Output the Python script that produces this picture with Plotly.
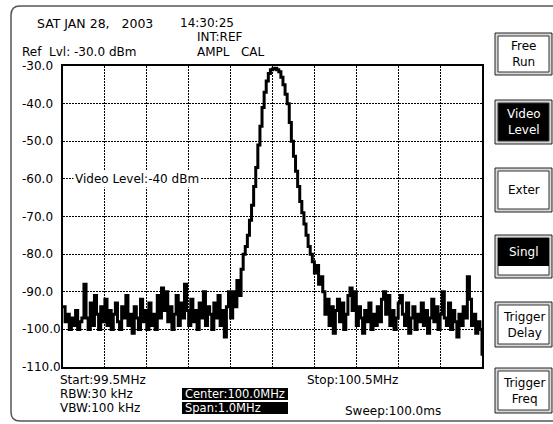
import numpy as np
import plotly.graph_objects as go

# ---- data ----
start_mhz = 99.5
stop_mhz = 100.5
n_points = 201
freqs = np.linspace(start_mhz, stop_mhz, n_points)
levels_dbm = [
    -94, -98, -96, -100, -97, -99, -95, -100, -98, -97, -88,
    -97, -100, -93, -99, -91, -96, -100, -94, -98, -92,
    -99, -95, -100, -96, -93, -98, -100, -94, -97, -91,
    -99, -96, -101, -94, -97, -100, -92, -98, -95, -100,
    -93, -99, -96, -100, -91, -97, -89, -95, -90, -98,
    -94, -100, -96, -91, -99, -93, -97, -88, -95, -99,
    -92, -98, -95, -100, -93, -97, -90, -99, -94, -96,
    -100, -93, -97, -91, -99, -95, -102, -94, -90, -97,
    -90, -94, -87, -91, -84, -80, -78, -75, -71, -67,
    -62, -57, -51, -46, -41, -37, -34, -32, -31, -30.8,
    -30.6, -31, -31.5, -33, -35, -37.5, -40, -45, -50, -54,
    -58, -62, -66, -69, -72, -75, -78, -80, -82, -85,
    -83, -88, -86, -90, -96, -92, -99, -94, -101, -95,
    -92, -98, -93, -100, -96, -91, -89, -95, -90, -99,
    -94, -97, -101, -95, -98, -93, -100, -96, -99, -94,
    -98, -92, -90, -96, -91, -99, -95, -100, -97, -93,
    -91, -96, -99, -93, -101, -97, -94, -100, -96, -98,
    -93, -99, -95, -101, -97, -92, -98, -94, -100, -96,
    -90, -97, -99, -93, -100, -95, -98, -102, -96, -99,
    -94, -97, -86, -92, -99, -96, -101, -98, -100, -107,
]
y_ticks = [-30, -40, -50, -60, -70, -80, -90, -100, -110]
y_tick_labels = ["-30.0", "-40.0", "-50.0", "-60.0", "-70.0", "-80.0", "-90.0", "-100.0", "-110.0"]

top_texts = [
    ("SAT JAN 28,\u00a0\u00a0\u00a02003", 35, 23, 12.5),
    ("14:30:25", 178, 23, 12),
    ("INT:REF", 195, 37, 12),
    ("Ref\u00a0\u00a0Lvl: -30.0 dBm", 20, 52, 12),
    ("AMPL\u00a0\u00a0\u00a0CAL", 195, 52, 12),
]
bottom_texts = [
    ("Start:99.5MHz", 58, 380, 12),
    ("RBW:30 kHz", 58, 394, 12),
    ("VBW:100 kHz", 58, 408, 12),
    ("Stop:100.5MHz", 305, 380, 12),
    ("Sweep:100.0ms", 343, 411, 12),
]
boxed_texts = [("Center:100.0MHz", 388, 400), ("Span:1.0MHz", 402, 414)]
buttons = [
    ("Free<br>Run", 33, 75, "off"),
    ("Video<br>Level", 100, 144, "on"),
    ("Exter", 168, 212, "off"),
    ("Singl", 235, 278, "half"),
    ("Trigger<br>Delay", 302, 347, "off"),
    ("Trigger<br>Freq", 368, 413, "off"),
]
video_label = "Video Level:-40 dBm"

# ---- layout geometry (page pixels) ----
W, H = 553, 424
L, R, T, B = 63, 482, 66, 367
PW, PH = R - L, B - T
FONT = "DejaVu Sans"


def px(x):
    return (x - L) / PW


def py(y):
    return (B - y) / PH


fig = go.Figure()
fig.add_trace(go.Scatter(
    x=freqs, y=levels_dbm, mode="lines",
    line=dict(color="black", width=3, shape="hv"),
    hoverinfo="skip", showlegend=False,
))

shapes = []
annotations = []

# outer rounded frame
r = 9
fx0, fy0, fx1, fy1 = 11, 6, 600, 421
path = (
    f"M {px(fx0 + r)} {py(fy0)} L {px(fx1)} {py(fy0)} L {px(fx1)} {py(fy1)} "
    f"L {px(fx0 + r)} {py(fy1)} Q {px(fx0)} {py(fy1)} {px(fx0)} {py(fy1 - r)} "
    f"L {px(fx0)} {py(fy0 + r)} Q {px(fx0)} {py(fy0)} {px(fx0 + r)} {py(fy0)} Z"
)
shapes.append(dict(type="path", xref="paper", yref="paper", path=path,
                   line=dict(color="#555555", width=1.5), layer="below"))

# buttons
bx0, bx1 = 495, 552
for label, y0, y1, state in buttons:
    shapes.append(dict(type="rect", xref="paper", yref="paper",
                       x0=px(bx0), x1=px(bx1), y0=py(y1), y1=py(y0),
                       line=dict(color="#222222", width=1), fillcolor="#d8d8d8"))
    inner_fill = "black" if state == "on" else "white"
    shapes.append(dict(type="rect", xref="paper", yref="paper",
                       x0=px(bx0 + 3), x1=px(bx1 - 3), y0=py(y1 - 3), y1=py(y0 + 3),
                       line=dict(color="#333333", width=1), fillcolor=inner_fill))
    if state == "half":
        shapes.append(dict(type="rect", xref="paper", yref="paper",
                           x0=px(bx0 + 3), x1=px(bx1 - 3), y0=py(y1 - 12), y1=py(y0 + 3),
                           line=dict(width=0), fillcolor="black"))
    txt_color = "white" if state in ("on", "half") else "black"
    cy = (y0 + y1) / 2 if state != "half" else (y0 + y1 - 9) / 2
    annotations.append(dict(text=label, xref="paper", yref="paper",
                            x=px((bx0 + bx1) / 2), y=py(cy), showarrow=False,
                            xanchor="center", yanchor="middle",
                            font=dict(family=FONT, size=12, color=txt_color)))

# black boxes for center / span
for text, y0, y1 in boxed_texts:
    shapes.append(dict(type="rect", xref="paper", yref="paper",
                       x0=px(182), x1=px(288), y0=py(y1), y1=py(y0),
                       line=dict(width=0), fillcolor="black"))
    annotations.append(dict(text=text, xref="paper", yref="paper",
                            x=px(183), y=py((y0 + y1) / 2), showarrow=False,
                            xanchor="left", yanchor="middle",
                            font=dict(family=FONT, size=11.5, color="white")))

for text, x, y, fs in top_texts + bottom_texts:
    annotations.append(dict(text=text, xref="paper", yref="paper",
                            x=px(x), y=py(y), showarrow=False,
                            xanchor="left", yanchor="middle",
                            font=dict(family=FONT, size=fs, color="black")))

# y tick labels, left aligned
for v, lab in zip(y_ticks, y_tick_labels):
    annotations.append(dict(text=lab, xref="paper", yref="y",
                            x=px(20), y=v, showarrow=False,
                            xanchor="left", yanchor="middle",
                            font=dict(family=FONT, size=12, color="black")))

# video level label
annotations.append(dict(text=video_label, xref="paper", yref="y",
                        x=px(73), y=-60, showarrow=False,
                        xanchor="left", yanchor="middle", bgcolor="white",
                        borderpad=1,
                        font=dict(family=FONT, size=12, color="black")))

fig.update_layout(
    width=W, height=H, autosize=False,
    margin=dict(l=L, r=W - R, t=T, b=H - B, pad=0),
    paper_bgcolor="white", plot_bgcolor="white",
    shapes=shapes, annotations=annotations,
    font=dict(family=FONT, size=12, color="black"),
    xaxis=dict(range=[start_mhz, stop_mhz], dtick=0.1, tick0=start_mhz,
               showgrid=True, gridcolor="black", gridwidth=1, griddash="1.5px,1.5px",
               showline=True, linecolor="black", linewidth=2, mirror=True,
               showticklabels=False, ticks="", zeroline=False, fixedrange=True),
    yaxis=dict(range=[-110, -30], dtick=10, tick0=-110,
               showgrid=True, gridcolor="black", gridwidth=1, griddash="1.5px,1.5px",
               showline=True, linecolor="black", linewidth=2, mirror=True,
               showticklabels=False, ticks="", zeroline=False, fixedrange=True),
)

fig.write_html(
    "out.html",
    config={"displayModeBar": False, "staticPlot": True},
    post_script="document.body.style.margin='0';document.body.style.overflow='hidden';",
)
